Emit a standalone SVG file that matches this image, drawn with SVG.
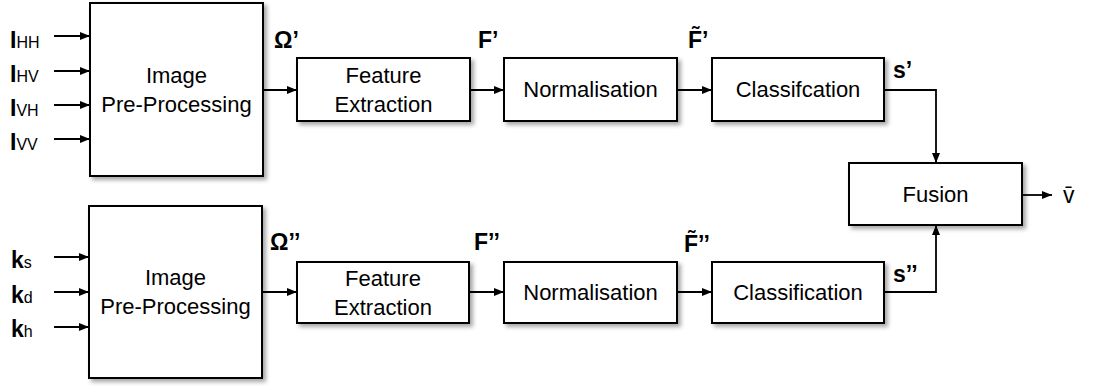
<svg xmlns="http://www.w3.org/2000/svg" width="1093" height="387" viewBox="0 0 1093 387">
  <style>
    .box { fill: #ffffff; stroke: #000000; stroke-width: 2; filter: url(#shadow); }
    .txt { font-family: "Liberation Sans", Arial, sans-serif; font-size: 22px; fill: #000000; text-anchor: middle; }
    .lbl { font-family: "Liberation Sans", Arial, sans-serif; font-size: 23px; font-weight: bold; fill: #000000; }
    .sub { font-weight: normal; font-size: 16px; }
    .wire { fill: none; stroke: #000000; stroke-width: 1.8; }
    .arr { marker-end: url(#head); }
  </style>
  <defs>
    <filter id="shadow" x="-10%" y="-10%" width="130%" height="130%">
      <feDropShadow dx="3" dy="3" stdDeviation="2" flood-color="#000000" flood-opacity="0.35"/>
    </filter>
    <marker id="head" markerUnits="userSpaceOnUse" markerWidth="11" markerHeight="10" refX="10" refY="5" orient="auto">
      <path d="M0,1 L10,5 L0,9 Z" fill="#000000"/>
    </marker>
  </defs>

  <rect width="1093" height="387" fill="#ffffff"/>

  <!-- upper branch -->
  <g id="pre1">
    <rect class="box" x="90" y="3" width="173" height="173"/>
    <text class="txt" x="176.5" y="83">Image</text>
    <text class="txt" x="176.5" y="112">Pre-Processing</text>
  </g>
  <g id="feat1">
    <rect class="box" x="297" y="58" width="173" height="63"/>
    <text class="txt" x="383.5" y="83">Feature</text>
    <text class="txt" x="383.5" y="112">Extraction</text>
  </g>
  <g id="norm1">
    <rect class="box" x="504" y="58" width="173" height="63"/>
    <text class="txt" x="590.5" y="97">Normalisation</text>
  </g>
  <g id="cls1">
    <rect class="box" x="712" y="58" width="172" height="63"/>
    <text class="txt" x="798" y="97">Classifcation</text>
  </g>

  <!-- lower branch -->
  <g id="pre2">
    <rect class="box" x="89" y="206" width="173" height="172"/>
    <text class="txt" x="175.5" y="285">Image</text>
    <text class="txt" x="175.5" y="314">Pre-Processing</text>
  </g>
  <g id="feat2">
    <rect class="box" x="297" y="262" width="172" height="61"/>
    <text class="txt" x="383" y="286">Feature</text>
    <text class="txt" x="383" y="315">Extraction</text>
  </g>
  <g id="norm2">
    <rect class="box" x="504" y="262" width="173" height="61"/>
    <text class="txt" x="590.5" y="300">Normalisation</text>
  </g>
  <g id="cls2">
    <rect class="box" x="712" y="262" width="172" height="61"/>
    <text class="txt" x="798" y="300">Classification</text>
  </g>

  <!-- fusion -->
  <g id="fusion">
    <rect class="box" x="849" y="163" width="173" height="62"/>
    <text class="txt" x="935.5" y="202">Fusion</text>
  </g>

  <!-- connectors -->
  <g id="connectors">
    <line class="wire arr" x1="54" y1="36" x2="90" y2="36"/>
    <line class="wire arr" x1="54" y1="71" x2="90" y2="71"/>
    <line class="wire arr" x1="54" y1="105" x2="90" y2="105"/>
    <line class="wire arr" x1="54" y1="139" x2="90" y2="139"/>
    <line class="wire arr" x1="263" y1="90" x2="297" y2="90"/>
    <line class="wire arr" x1="470" y1="90" x2="504" y2="90"/>
    <line class="wire arr" x1="677" y1="90" x2="712" y2="90"/>
    <polyline class="wire arr" points="884,90 936,90 936,163"/>

    <line class="wire arr" x1="54" y1="257" x2="89" y2="257"/>
    <line class="wire arr" x1="54" y1="292" x2="89" y2="292"/>
    <line class="wire arr" x1="54" y1="327" x2="89" y2="327"/>
    <line class="wire arr" x1="262" y1="292" x2="297" y2="292"/>
    <line class="wire arr" x1="469" y1="292" x2="504" y2="292"/>
    <line class="wire arr" x1="677" y1="292" x2="712" y2="292"/>
    <polyline class="wire arr" points="884,292 936,292 936,225"/>

    <line class="wire arr" x1="1022" y1="195" x2="1052" y2="195"/>
  </g>

  <!-- signal labels -->
  <g id="labels">
    <text class="lbl" x="10" y="48">I<tspan class="sub">HH</tspan></text>
    <text class="lbl" x="10" y="82">I<tspan class="sub">HV</tspan></text>
    <text class="lbl" x="10" y="116">I<tspan class="sub">VH</tspan></text>
    <text class="lbl" x="10" y="150">I<tspan class="sub">VV</tspan></text>

    <text class="lbl" x="11" y="268">k<tspan class="sub">s</tspan></text>
    <text class="lbl" x="11" y="303">k<tspan class="sub">d</tspan></text>
    <text class="lbl" x="11" y="337">k<tspan class="sub">h</tspan></text>

    <text class="lbl" x="274" y="48">Ω’</text>
    <text class="lbl" x="478" y="48">F’</text>
    <text class="lbl" x="688" y="48">F̃’</text>
    <text class="lbl" x="893" y="78">s’</text>

    <text class="lbl" x="270" y="250">Ω’’</text>
    <text class="lbl" x="474" y="250">F’’</text>
    <text class="lbl" x="684" y="252">F̃’’</text>
    <text class="lbl" x="893" y="282">s’’</text>

    <text class="lbl" x="1063" y="203" style="font-weight:normal">v̄</text>
  </g>
</svg>
